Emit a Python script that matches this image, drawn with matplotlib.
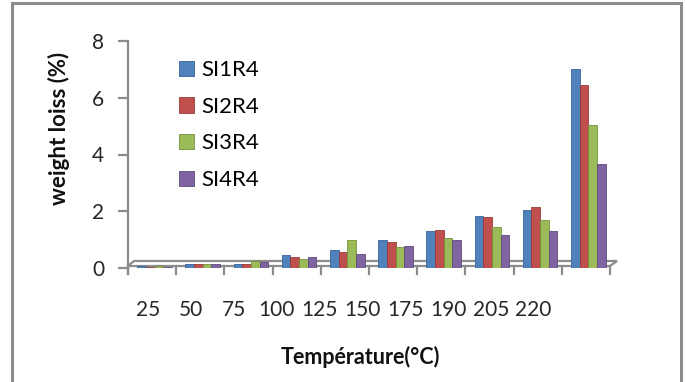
import numpy as np
import matplotlib.pyplot as plt
from matplotlib.patches import Polygon, Rectangle

# Data
temperatures = ["25", "50", "75", "100", "125", "150", "175", "190", "205", "220"]
series_names = ["SI1R4", "SI2R4", "SI3R4", "SI4R4"]
si1r4 = [0.06, 0.15, 0.15, 0.45, 0.65, 0.97, 1.30, 1.85, 2.05, 7.00]
si2r4 = [0.05, 0.14, 0.15, 0.40, 0.57, 0.90, 1.35, 1.80, 2.15, 6.45]
si3r4 = [0.06, 0.13, 0.25, 0.32, 0.97, 0.73, 1.05, 1.45, 1.70, 5.05]
si4r4 = [0.05, 0.14, 0.22, 0.38, 0.50, 0.78, 0.98, 1.18, 1.32, 3.65]
colors = ["#4F81BD", "#C0504D", "#9BBB59", "#8064A2"]
edge_colors = ["#3A6396", "#973A38", "#76923C", "#5F4A7A"]

W, H = 687, 382
plt.rcParams["font.family"] = ["Lato", "DejaVu Sans"]

fig = plt.figure(figsize=(W / 100, H / 100), dpi=100)


def px_rect(x0, y_top, x1, y_bottom):
    """Figure-fraction rect from pixel coords (y measured from top)."""
    return [x0 / W, 1 - y_bottom / H, (x1 - x0) / W, (y_bottom - y_top) / H]


def px(xp, yp):
    return xp / W, 1 - yp / H


# Main axes: x from 128 to 610 px, y from 268 (0) up to 41 (8)
ax = fig.add_axes(px_rect(128, 41, 610, 268))
ax.set_zorder(1)
ax.set_xlim(-0.5, 9.5)
ax.set_ylim(0, 8)
ax.patch.set_alpha(0)

x = np.arange(len(temperatures))
width = 0.18
values = [si1r4, si2r4, si3r4, si4r4]
for i, (vals, name) in enumerate(zip(values, series_names)):
    ax.bar(x + (i - 1.5) * width + 0.05, vals, width, color=colors[i],
           edgecolor=edge_colors[i], linewidth=0.6, label=name, zorder=3)

for side in ["top", "right", "bottom"]:
    ax.spines[side].set_visible(False)
ax.spines["left"].set_color("#8C8C8C")
ax.spines["left"].set_linewidth(1.6)
ax.spines["left"].set_bounds(0, 8)
ax.set_yticks([0, 2, 4, 6, 8])
ax.tick_params(axis="y", length=7, width=1.6, color="#8C8C8C",
               labelsize=15, pad=10, labelcolor="#262626")
ax.set_xticks([])

# 3D-like floor and category tick marks (drawn behind the bars)
gray = "#8C8C8C"
floor_pts = [px(128, 266), px(610, 266), px(617, 261), px(134, 261)]
fig.patches.append(Polygon(floor_pts, closed=True, fill=False, edgecolor=gray,
                           linewidth=1.6, transform=fig.transFigure, zorder=0.5))
fig.lines.append(plt.Line2D(*zip(px(128, 266), px(128, 274)), color=gray, lw=1.6,
                            transform=fig.transFigure, zorder=0.5))
for k in range(len(temperatures) + 1):
    xp = 128 + k * 48.2
    fig.lines.append(plt.Line2D(*zip(px(xp, 266), px(xp, 274)), color=gray,
                                lw=1.6, transform=fig.transFigure, zorder=0.5))

# Category labels (compressed, as in the original 3D projection)
lab_ax = fig.add_axes(px_rect(127, 296, 555, 297))
lab_ax.set_xlim(-0.5, 9.5)
lab_ax.set_xticks(x)
lab_ax.set_xticklabels(temperatures)
lab_ax.set_yticks([])
lab_ax.tick_params(axis="x", length=0, labelsize=15, pad=2, labelcolor="#262626")
for s in lab_ax.spines.values():
    s.set_visible(False)
lab_ax.patch.set_alpha(0)

fig.text(*px(360, 357), "Température(°C)", ha="center", va="center",
         fontsize=15.5, fontweight="bold", color="#111111")
fig.text(*px(59, 128), "weight loiss (%)", ha="center", va="center",
         rotation=90, fontsize=16, fontweight="bold", color="#111111")

ax.legend(loc="upper left", bbox_to_anchor=px(168, 49),
          bbox_transform=fig.transFigure, frameon=False, fontsize=16,
          handlelength=0.68, handleheight=0.68, handletextpad=0.3,
          labelspacing=0.75, borderpad=0)

# Outer chart border
fig.patches.append(Rectangle((12 / W, -0.05), (681 - 12) / W, 1.05 - 3 / H,
                             transform=fig.transFigure, fill=False,
                             edgecolor="#8C8C8C", linewidth=2.2))

fig.savefig("out.png", dpi=100)
